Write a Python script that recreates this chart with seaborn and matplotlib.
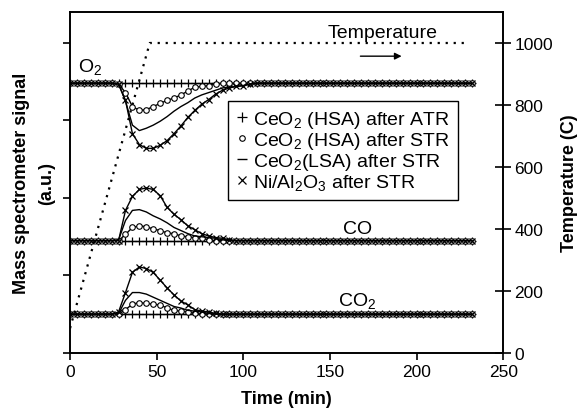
import numpy as np
import pandas as pd
import matplotlib
matplotlib.use("Agg")
import matplotlib.pyplot as plt
import seaborn as sns
from matplotlib.lines import Line2D

sns.set_style("ticks")
plt.rcParams['font.family'] = ['Liberation Sans', 'DejaVu Sans']
plt.rcParams['mathtext.fontset'] = 'custom'
plt.rcParams['mathtext.rm'] = 'Liberation Sans'
plt.rcParams['mathtext.it'] = 'Liberation Sans:italic'
plt.rcParams['mathtext.bf'] = 'Liberation Sans:bold'
plt.rcParams['mathtext.default'] = 'regular'
for k in ['text.color', 'axes.labelcolor', 'xtick.color', 'ytick.color', 'axes.edgecolor']:
    plt.rcParams[k] = 'black'

# ---------------- data ----------------
time_min = list(range(0, 233, 4))          # sampling times (min)
event_start = 28                            # response begins here (min)

baseline = {"O2": 34.8, "CO": 14.5, "CO2": 5.0}
direction = {"O2": -1, "CO": 1, "CO2": 1}

series_names = ["CeO$_2$ (HSA) after ATR", "CeO$_2$ (HSA) after STR",
                "CeO$_2$(LSA) after STR", "Ni/Al$_2$O$_3$ after STR"]
series_markers = ["+", "o", "", "x"]

# deviation from baseline starting at t = 28 min, every 4 min (a.u.)
o2_hsa_atr = [0.0]
o2_hsa_str = [0.1, 1.2, 3.0, 3.5, 3.4, 3.0, 2.6, 2.2, 1.9, 1.5, 1.0, 0.5, 0.4, 0.3, 0.1]
o2_lsa_str = [0.1, 2.3, 5.4, 6.1, 5.8, 5.4, 4.9, 4.3, 3.6, 3.0, 2.5, 1.9, 1.5, 1.2, 0.9,
              0.6, 0.5, 0.4, 0.3, 0.1]
o2_ni_str = [0.1, 2.2, 6.5, 7.9, 8.4, 8.4, 8.0, 7.4, 6.5, 5.5, 4.4, 3.5, 2.7, 2.1, 1.4,
             0.9, 0.6, 0.4, 0.3, 0.1]

co_hsa_atr = [0.0]
co_hsa_str = [0.0, 0.8, 1.7, 1.9, 1.8, 1.5, 1.3, 1.0, 0.9, 0.6, 0.5, 0.4, 0.3, 0.1]
co_lsa_str = [0.1, 2.6, 3.9, 4.0, 3.7, 3.2, 2.8, 2.3, 1.7, 1.3, 0.9, 0.6, 0.5, 0.4, 0.3, 0.1]
co_ni_str = [0.0, 3.9, 5.7, 6.6, 6.8, 6.6, 5.8, 4.3, 3.4, 2.7, 1.9, 1.4, 0.9, 0.6, 0.4, 0.3, 0.1]

co2_hsa_atr = [0.0]
co2_hsa_str = [0.0, 0.6, 1.3, 1.5, 1.4, 1.3, 1.2, 0.8, 0.5, 0.4, 0.3, 0.1]
co2_lsa_str = [0.1, 1.8, 2.8, 2.8, 2.6, 2.2, 1.8, 1.4, 1.0, 0.8, 0.5, 0.4, 0.3, 0.1]
co2_ni_str = [0.3, 2.8, 5.4, 6.1, 5.9, 5.4, 4.4, 3.4, 2.5, 1.7, 1.2, 0.6, 0.4, 0.3, 0.1]

deviations = {
    "O2": [o2_hsa_atr, o2_hsa_str, o2_lsa_str, o2_ni_str],
    "CO": [co_hsa_atr, co_hsa_str, co_lsa_str, co_ni_str],
    "CO2": [co2_hsa_atr, co2_hsa_str, co2_lsa_str, co2_ni_str],
}

temp_time = [0, 46, 228]
temp_C = [80, 1000, 1000]

# -------------- build table --------------
rows = []
i0 = time_min.index(event_start)
for gas, devs in deviations.items():
    for name, dev in zip(series_names, devs):
        full = [0.0] * len(time_min)
        for k, v in enumerate(dev):
            full[i0 + k] = v
        for t, d in zip(time_min, full):
            rows.append({"gas": gas, "series": name, "time": t,
                         "signal": baseline[gas] + direction[gas] * d})
df = pd.DataFrame(rows)

# -------------- plot --------------
fig = plt.figure(figsize=(5.79, 4.10), dpi=100)
ax = fig.add_axes([0.121, 0.1366, 0.748, 0.8317])

for gas in deviations:
    for name, mk in zip(series_names, series_markers):
        sub = df[(df.gas == gas) & (df.series == name)]
        kw = dict(color="black", linewidth=1.0)
        if mk == "o":
            kw.update(marker="o", markersize=4, markerfacecolor="white",
                      markeredgecolor="black", markeredgewidth=0.8)
        elif mk == "+":
            kw.update(marker="+", markersize=6, markeredgecolor="black", markeredgewidth=0.9)
        elif mk == "x":
            kw.update(marker="x", markersize=5, markeredgecolor="black", markeredgewidth=0.9)
        sns.lineplot(data=sub, x="time", y="signal", ax=ax, legend=False, **kw)

ax.set_xlim(0, 250)
ax.set_ylim(0, 44)
ax.set_xticks([0, 50, 100, 150, 200, 250])
ax.set_yticks([0, 10, 20, 30, 40])
ax.set_yticklabels([])
ax.tick_params(axis="both", direction="out", length=5, width=1.2, labelsize=12.5, colors="black", pad=3)
for s in ax.spines.values():
    s.set_linewidth(1.2)
    s.set_color("black")
ax.set_xlabel("Time (min)", fontsize=13, fontweight="bold", labelpad=8)
ax.set_ylabel("Mass spectrometer signal\n(a.u.)", fontsize=13, fontweight="bold",
              labelpad=3, linespacing=1.6)

ax2 = ax.twinx()
tdf = pd.DataFrame({"time": temp_time, "T": temp_C})
sns.lineplot(data=tdf, x="time", y="T", ax=ax2, color="black", linewidth=1.6,
             dashes=False, legend=False)
ax2.lines[0].set_dashes([1, 2.6])
ax2.set_ylim(0, 1100)
ax2.set_yticks([0, 200, 400, 600, 800, 1000])
ax2.tick_params(axis="y", direction="inout", length=12, width=1.2, labelsize=12.5, colors="black", pad=2)
ax2.set_ylabel("Temperature (C)", fontsize=13, fontweight="bold", labelpad=6)
for s in ax2.spines.values():
    s.set_linewidth(1.2)
    s.set_color("black")

ax.text(4.5, 35.7, "O$_2$", fontsize=14, ha="left", va="bottom")
ax.text(166, 15.0, "CO", fontsize=14, ha="center", va="bottom")
ax.text(166, 5.5, "CO$_2$", fontsize=14, ha="center", va="bottom")
ax.text(180.5, 40.2, "Temperature", fontsize=14, ha="center", va="bottom")
ax.annotate("", xy=(193, 38.3), xytext=(166, 38.3),
            arrowprops=dict(arrowstyle="-|>", color="black", lw=1.0, mutation_scale=10))

handles = [
    Line2D([], [], color="black", marker="+", linestyle="none", markersize=7, markeredgewidth=0.9),
    Line2D([], [], color="black", marker="o", linestyle="none", markersize=4,
           markerfacecolor="white", markeredgewidth=0.8),
    Line2D([], [], color="black", marker="_", linestyle="none", markersize=7, markeredgewidth=1.0),
    Line2D([], [], color="black", marker="x", linestyle="none", markersize=5.5, markeredgewidth=0.9),
]
leg = ax2.legend(handles, series_names, loc="upper left", bbox_to_anchor=(0.365, 0.739),
                 borderaxespad=0, frameon=True, fancybox=False, edgecolor="black",
                 framealpha=1, fontsize=14, handlelength=0.6, handletextpad=0.3,
                 labelspacing=0.0, borderpad=0.4)
leg.get_frame().set_linewidth(1.0)

fig.savefig("out.png", dpi=100)
